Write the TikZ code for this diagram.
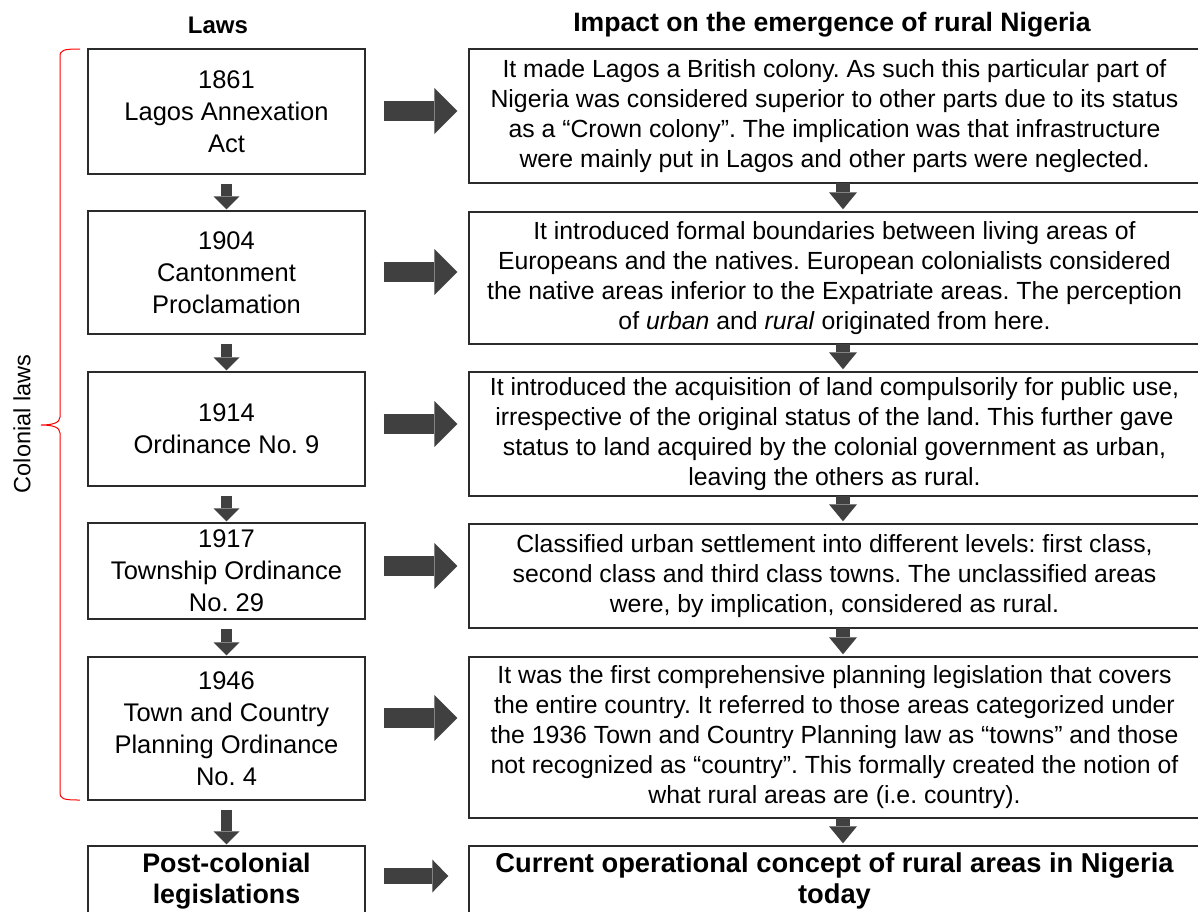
\documentclass[tikz,border=0pt]{standalone}
\usepackage{fontspec}
\setmainfont{Liberation Sans}
\usetikzlibrary{arrows.meta,calc}
\definecolor{arrowgray}{HTML}{404040}
\definecolor{framegray}{HTML}{2B2B2B}
\frenchspacing
\begin{document}
\begin{tikzpicture}[x=1pt,y=-1pt,
  lawbox/.style={draw=framegray,line width=1.4pt,minimum width=277pt,align=center,
    inner sep=0pt,font=\fontsize{25.5}{32}\selectfont},
  impactbox/.style={draw=framegray,line width=1.4pt,minimum width=731pt,align=center,
    inner sep=0pt,font=\fontsize{24.8}{30}\selectfont},
  heading/.style={font=\bfseries\fontsize{24}{29}\selectfont},
  finalbox/.style={font=\bfseries\fontsize{26.8}{31}\selectfont},
  downlaw/.style={arrowgray,line width=11pt,
    -{Triangle[width=26pt,length=13pt,line width=0pt]}},
  downimpact/.style={arrowgray,line width=14pt,
    -{Triangle[width=28pt,length=17pt,line width=0pt]}},
  across/.style={arrowgray,line width=20pt,
    -{Triangle[width=46pt,length=23pt,line width=0pt]}},
  acrosssmall/.style={arrowgray,line width=16pt,
    -{Triangle[width=33pt,length=16pt,line width=0pt]}},
]
\useasboundingbox (0,0) rectangle (1198,911);
\clip (0,0) rectangle (1198,911);

% column headings
\node[heading] (hlaws) at (218,25) {Laws};
\node[heading,font=\bfseries\fontsize{26.6}{30}\selectfont] (himpact) at (832,25)
  {Impact on the emergence of rural Nigeria};

% laws column
\node[lawbox,minimum height=125pt] (l1) at (226.5,111.5) {1861\\Lagos Annexation\\Act};
\node[lawbox,minimum height=123pt] (l2) at (226.5,272.5) {1904\\Cantonment\\Proclamation};
\node[lawbox,minimum height=114pt] (l3) at (226.5,429) {1914\\Ordinance No. 9};
\node[lawbox,minimum height=96pt] (l4) at (226.5,571) {1917\\Township Ordinance\\No. 29};
\node[lawbox,minimum height=143pt] (l5) at (226.5,728.5) {1946\\Town and Country\\Planning Ordinance\\No. 4};
\node[lawbox,minimum height=70pt,finalbox] (l6) at (226.5,881)
  {Post-colonial\\legislations};

% impact column
\node[impactbox,minimum height=134pt] (r1) at (834.5,116)
  {It made Lagos a British colony. As such this particular part of\\
   Nigeria was considered superior to other parts due to its status\\
   as a “Crown colony”. The implication was that infrastructure\\
   were mainly put in Lagos and other parts were neglected.};
\node[impactbox,minimum height=132pt] (r2) at (834.5,278)
  {It introduced formal boundaries between living areas of\\
   Europeans and the natives. European colonialists considered\\
   the native areas inferior to the Expatriate areas. The perception\\
   of \textit{urban} and \textit{rural} originated from here.};
\node[impactbox,minimum height=124pt] (r3) at (834.5,434)
  {It introduced the acquisition of land compulsorily for public use,\\
   irrespective of the original status of the land. This further gave\\
   status to land acquired by the colonial government as urban,\\
   leaving the others as rural.};
\node[impactbox,minimum height=104pt] (r4) at (834.5,576)
  {Classified urban settlement into different levels: first class,\\
   second class and third class towns. The unclassified areas\\
   were, by implication, considered as rural.};
\node[impactbox,minimum height=161pt] (r5) at (834.5,737.5)
  {It was the first comprehensive planning legislation that covers\\
   the entire country. It referred to those areas categorized under\\
   the 1936 Town and Country Planning law as “towns” and those\\
   not recognized as “country”. This formally created the notion of\\
   what rural areas are (i.e. country).};
\node[impactbox,minimum height=70pt,font=\bfseries\fontsize{27.3}{31}\selectfont] (r6) at (834.5,881)
  {Current operational concept of rural areas in Nigeria\\today};

% downward arrows, laws column
\foreach \a/\b in {l1/l2,l2/l3,l3/l4,l4/l5,l5/l6}
  \draw[downlaw] ($(\a.south)+(0,9)$) -- ($(\b.north)+(0,-1)$);

% downward arrows, impact column
\foreach \a/\b in {r1/r2,r2/r3,r3/r4,r4/r5,r5/r6}
  \draw[downimpact] ($(\a.south)+(8.5,-1)$) -- ($(\b.north)+(8.5,-2)$);

% arrows from each law to its impact
\draw[across] ($(l1.east)+(18,-0.5)$) -- ($(r1.west |- l1.east)+(-11,-0.5)$);
\draw[across] ($(l2.east)+(18,-0.5)$) -- ($(r2.west |- l2.east)+(-11,-0.5)$);
\draw[across] ($(l3.east)+(18,-5)$) -- ($(r3.west |- l3.east)+(-11,-5)$);
\draw[across] ($(l4.east)+(18,-5)$) -- ($(r4.west |- l4.east)+(-11,-5)$);
\draw[across] ($(l5.east)+(18,-10.5)$) -- ($(r5.west |- l5.east)+(-11,-10.5)$);
\draw[acrosssmall] ($(l6.east)+(18,-5)$) -- ($(r6.west |- l6.east)+(-20,-5)$);

% brace grouping the colonial laws
\draw[red,line width=1pt]
  (80,49) .. controls (63,49) and (60,50) .. (60,57) -- (60,417)
  .. controls (60,423) and (52,425) .. (41,425)
  .. controls (52,425) and (60,427) .. (60,433) -- (60,792)
  .. controls (60,799) and (63,800) .. (80,800);
\node[rotate=90,font=\fontsize{23.5}{28}\selectfont] (colonial) at (22,424) {Colonial laws};
\end{tikzpicture}
\end{document}
